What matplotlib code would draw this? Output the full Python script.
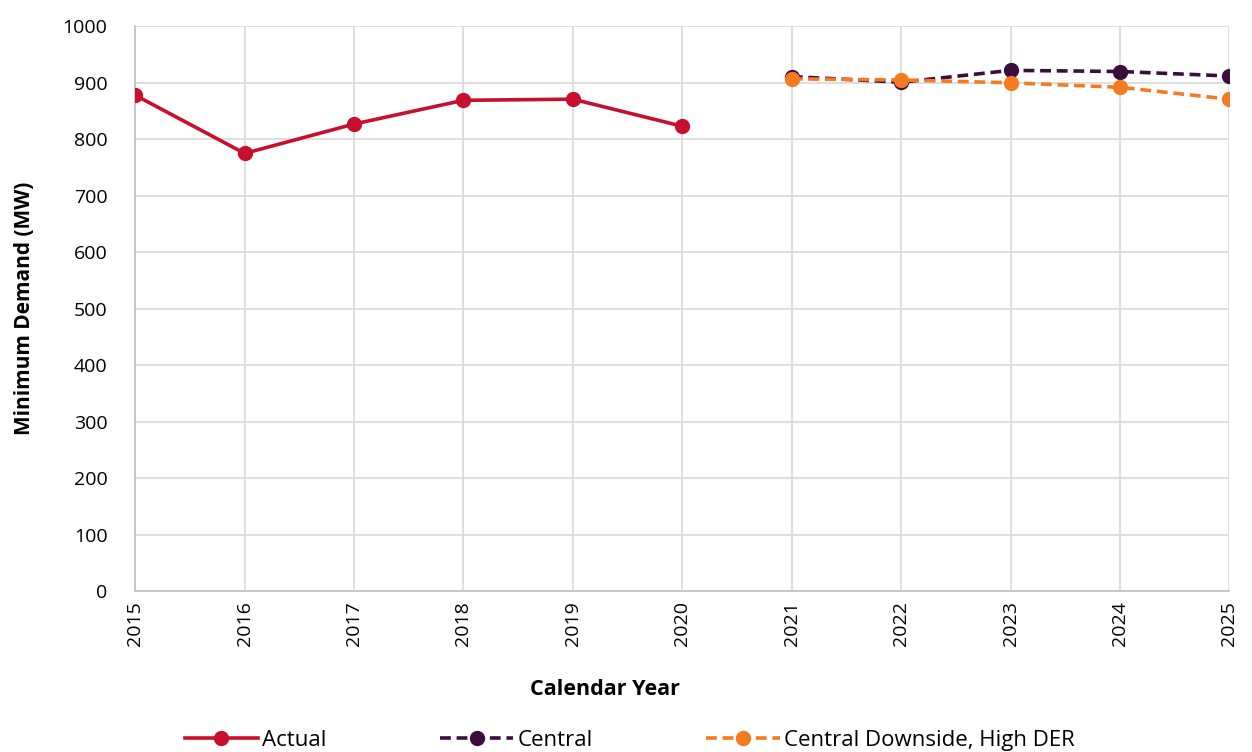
import matplotlib.pyplot as plt

plt.rcParams['font.family'] = ['Open Sans', 'DejaVu Sans']
plt.rcParams['font.size'] = 13

# Minimum demand (MW) by calendar year
actual_years = [2015, 2016, 2017, 2018, 2019, 2020]
actual = [878, 775, 827, 869, 871, 823]

forecast_years = [2021, 2022, 2023, 2024, 2025]
central = [911, 901, 922, 920, 912]
downside_high_der = [907, 905, 900, 892, 871]

fig = plt.figure(figsize=(12.52, 7.52), dpi=100)
ax = fig.add_axes([0.108, 0.214, 0.874, 0.751])

ax.plot(actual_years, actual, color='#C8102E', lw=2.6, marker='o', ms=10,
        label='Actual', zorder=3)
ax.plot(forecast_years, central, color='#3A0F3E', lw=2.6, ls=(0, (3, 1.6)),
        marker='o', ms=10, label='Central', zorder=3)
ax.plot(forecast_years, downside_high_der, color='#F47B20', lw=2.6,
        ls=(0, (3, 1.6)), marker='o', ms=10,
        label='Central Downside, High DER', zorder=4)

ax.set_xlim(2015, 2025)
ax.set_ylim(0, 1000)
ax.set_xticks(range(2015, 2026))
ax.set_xticklabels([str(y) for y in range(2015, 2026)], rotation=90)
ax.set_yticks(range(0, 1001, 100))
ax.grid(True, color='#D9D9D9', lw=1.2)
ax.set_axisbelow(True)
for side in ['top', 'right']:
    ax.spines[side].set_visible(False)
for side in ['left', 'bottom']:
    ax.spines[side].set_color('#BFBFBF')
    ax.spines[side].set_linewidth(1.2)
ax.tick_params(length=0, labelsize=14, colors='#000000')
ax.tick_params(axis='x', pad=7)
ax.tick_params(axis='y', pad=20)

ax.set_xlabel('Calendar Year', fontsize=15.5, fontweight='bold', labelpad=26)
ax.xaxis.set_label_coords(0.429, -0.155)
ax.set_ylabel('Minimum Demand (MW)', fontsize=15, fontweight='bold', labelpad=20)

fig.legend(loc='lower center', ncol=3, frameon=False, fontsize=16,
           bbox_to_anchor=(0.503, -0.025), handlelength=3.3, columnspacing=5.1,
           handletextpad=0.2)

fig.savefig('out.png', dpi=100)
